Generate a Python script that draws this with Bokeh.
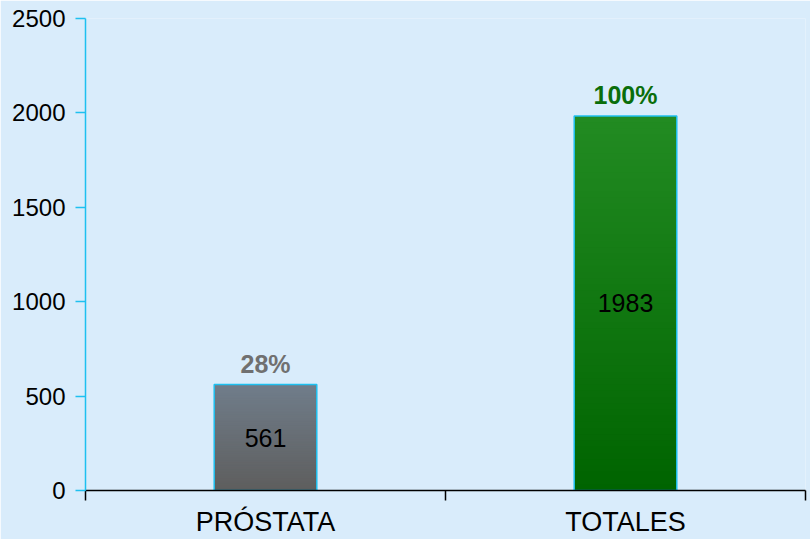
from bokeh.plotting import figure
from bokeh.models import ColumnDataSource, FixedTicker, Range1d
from bokeh.core.properties import value
from bokeh.embed import file_html
from bokeh.resources import INLINE

categories = ["PRÓSTATA", "TOTALES"]
counts = [561, 1983]
percent_labels = ["28%", "100%"]
y_ticks = [0, 500, 1000, 1500, 2000, 2500]

# styles
top_colors = [(0x70, 0x7d, 0x8a), (0x22, 0x8b, 0x22)]
bottom_colors = [(0x5e, 0x5e, 0x5e), (0x00, 0x64, 0x00)]
pct_colors = ["#707070", "#0a6e0a"]
FONT = "Liberation Sans"
BG = "#d9ecfb"

centers = [i + 0.5 for i in range(len(categories))]
bar_w = 0.285

p = figure(width=810, height=539, output_backend="svg", toolbar_location=None,
           x_range=Range1d(0, len(categories)), y_range=Range1d(0, 2500),
           min_border_left=85, min_border_right=5, min_border_top=18, min_border_bottom=49)
p.background_fill_color = BG
p.border_fill_color = BG
p.outline_line_color = None
p.grid.visible = False

# gradient fill by stacking thin, slightly overlapping slices of each bar
n = 60
for i, (c, v) in enumerate(zip(centers, counts)):
    bots, tops, cols = [], [], []
    for k in range(n):
        t = k / (n - 1)
        r = [round(bottom_colors[i][j] + (top_colors[i][j] - bottom_colors[i][j]) * t) for j in range(3)]
        bots.append(v * k / n)
        tops.append(min(v, v * (k + 1.6) / n))
        cols.append("#%02x%02x%02x" % tuple(r))
    src = ColumnDataSource(dict(left=[c - bar_w / 2] * n, right=[c + bar_w / 2] * n,
                                bottom=bots, top=tops, color=cols))
    p.quad(left="left", right="right", bottom="bottom", top="top", source=src,
           fill_color="color", line_color=None)

bars = ColumnDataSource(dict(x=centers, top=counts, mid=[v / 2 for v in counts],
                             lab=[str(v) for v in counts], pct=percent_labels, col=pct_colors))
p.vbar(x="x", top="top", width=bar_w, source=bars, fill_color=None,
       line_color="#1ec0f0", line_width=1.5)

p.text(x="x", y="mid", text="lab", source=bars, text_align="center", text_baseline="middle",
       text_font=value(FONT), text_font_size="25px", text_color="black")
p.text(x="x", y="top", text="pct", source=bars, text_align="center", text_baseline="bottom",
       y_offset=-7, text_font=value(FONT), text_font_size="25px", text_font_style="bold",
       text_color="col")

# y axis
ya = p.yaxis[0]
ya.ticker = FixedTicker(ticks=y_ticks)
ya.axis_line_color = "#1ec0f0"
ya.major_tick_line_color = "#1ec0f0"
ya.axis_line_width = 1.5
ya.major_tick_line_width = 1.5
ya.major_tick_in = 0
ya.major_tick_out = 10
ya.minor_tick_line_color = None
ya.major_label_standoff = 10
ya.major_label_text_font = FONT
ya.major_label_text_font_size = "24px"
ya.major_label_text_color = "black"

# x axis: labels at category centres, ticks at category boundaries
xa = p.xaxis[0]
xa.ticker = FixedTicker(ticks=centers, minor_ticks=list(range(len(categories) + 1)))
xa.major_label_overrides = {c: lab for c, lab in zip(centers, categories)}
xa.axis_line_color = "black"
xa.axis_line_width = 1.5
xa.major_tick_line_color = None
xa.major_tick_in = 0
xa.major_tick_out = 0
xa.minor_tick_line_color = "black"
xa.minor_tick_line_width = 1.5
xa.minor_tick_in = 0
xa.minor_tick_out = 10
xa.major_label_standoff = 6
xa.major_label_text_font = FONT
xa.major_label_text_font_size = "27px"
xa.major_label_text_color = "black"

open("out.html", "w").write(file_html(p, INLINE))
